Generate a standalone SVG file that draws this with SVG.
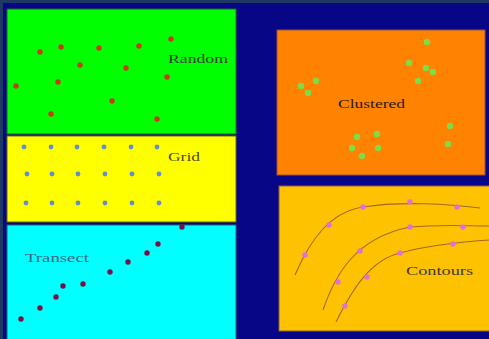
<svg xmlns="http://www.w3.org/2000/svg" width="489" height="339" viewBox="0 0 489 339">
  <defs>
    <style>
      .label { font-family: "Liberation Serif", "Times New Roman", serif; font-size: 13.5px; fill: #3a3a3a; }
      .rnd { fill: #c83a10; }
      .grd { fill: #5f8fcc; }
      .trn { fill: #7a1040; }
      .cls { fill: #7edc46; }
      .cnt { fill: #e070d8; }
      .curve { fill: none; stroke: #a06a28; stroke-width: 1.1; }
    </style>
  </defs>

  <!-- frame and background -->
  <rect x="0" y="0" width="489" height="339" fill="#1e3a64"/>
  <rect x="3" y="3" width="486" height="336" fill="#060686"/>

  <!-- Random sampling -->
  <g id="random">
    <rect x="7" y="9" width="229" height="125" fill="#00ff00" stroke="#1d6a1d" stroke-width="1"/>
    <circle class="rnd" cx="40" cy="52" r="2.7"/>
    <circle class="rnd" cx="61" cy="47" r="2.7"/>
    <circle class="rnd" cx="99" cy="48" r="2.7"/>
    <circle class="rnd" cx="139" cy="46" r="2.7"/>
    <circle class="rnd" cx="171" cy="39" r="2.7"/>
    <circle class="rnd" cx="80" cy="65" r="2.7"/>
    <circle class="rnd" cx="126" cy="68" r="2.7"/>
    <circle class="rnd" cx="16" cy="86" r="2.7"/>
    <circle class="rnd" cx="58" cy="82" r="2.7"/>
    <circle class="rnd" cx="167" cy="77" r="2.7"/>
    <circle class="rnd" cx="112" cy="101" r="2.7"/>
    <circle class="rnd" cx="51" cy="114" r="2.7"/>
    <circle class="rnd" cx="157" cy="119" r="2.7"/>
    <text class="label" x="168" y="63" textLength="60" lengthAdjust="spacingAndGlyphs">Random</text>
  </g>

  <!-- Grid sampling -->
  <g id="grid">
    <rect x="7" y="136" width="229" height="86" fill="#ffff00" stroke="#6a6a10" stroke-width="1"/>
    <circle class="grd" cx="24" cy="147" r="2.4"/>
    <circle class="grd" cx="51" cy="147" r="2.4"/>
    <circle class="grd" cx="77" cy="147" r="2.4"/>
    <circle class="grd" cx="104" cy="147" r="2.4"/>
    <circle class="grd" cx="131" cy="147" r="2.4"/>
    <circle class="grd" cx="157" cy="147" r="2.4"/>
    <circle class="grd" cx="27" cy="174" r="2.4"/>
    <circle class="grd" cx="52" cy="174" r="2.4"/>
    <circle class="grd" cx="78" cy="174" r="2.4"/>
    <circle class="grd" cx="105" cy="174" r="2.4"/>
    <circle class="grd" cx="132" cy="174" r="2.4"/>
    <circle class="grd" cx="159" cy="174" r="2.4"/>
    <circle class="grd" cx="26" cy="203" r="2.4"/>
    <circle class="grd" cx="52" cy="203" r="2.4"/>
    <circle class="grd" cx="78" cy="203" r="2.4"/>
    <circle class="grd" cx="105" cy="203" r="2.4"/>
    <circle class="grd" cx="132" cy="203" r="2.4"/>
    <circle class="grd" cx="159" cy="203" r="2.4"/>
    <text class="label" x="168" y="161" textLength="32" lengthAdjust="spacingAndGlyphs" style="fill:#4a4a20">Grid</text>
  </g>

  <!-- Transect sampling -->
  <g id="transect">
    <rect x="7" y="225" width="229" height="120" fill="#00ffff" stroke="#1a6a6a" stroke-width="1"/>
    <circle class="trn" cx="182" cy="227" r="2.7"/>
    <circle class="trn" cx="158" cy="244" r="2.7"/>
    <circle class="trn" cx="147" cy="253" r="2.7"/>
    <circle class="trn" cx="128" cy="262" r="2.7"/>
    <circle class="trn" cx="110" cy="272" r="2.7"/>
    <circle class="trn" cx="83" cy="284" r="2.7"/>
    <circle class="trn" cx="63" cy="286" r="2.7"/>
    <circle class="trn" cx="56" cy="297" r="2.7"/>
    <circle class="trn" cx="40" cy="308" r="2.7"/>
    <circle class="trn" cx="21" cy="319" r="2.7"/>
    <text class="label" x="25" y="262" textLength="64" lengthAdjust="spacingAndGlyphs" style="fill:#3a6a7a">Transect</text>
  </g>

  <!-- Clustered sampling -->
  <g id="clustered">
    <rect x="277" y="30" width="208" height="145" fill="#ff8200" stroke="#9a5040" stroke-width="1"/>
    <circle class="cls" cx="427" cy="42" r="3.2"/>
    <circle class="cls" cx="409" cy="63" r="3.2"/>
    <circle class="cls" cx="426" cy="68" r="3.2"/>
    <circle class="cls" cx="433" cy="72" r="3.2"/>
    <circle class="cls" cx="418" cy="81" r="3.2"/>
    <circle class="cls" cx="301" cy="86" r="3.2"/>
    <circle class="cls" cx="316" cy="81" r="3.2"/>
    <circle class="cls" cx="308" cy="93" r="3.2"/>
    <circle class="cls" cx="357" cy="137" r="3.2"/>
    <circle class="cls" cx="377" cy="134" r="3.2"/>
    <circle class="cls" cx="352" cy="148" r="3.2"/>
    <circle class="cls" cx="378" cy="148" r="3.2"/>
    <circle class="cls" cx="362" cy="156" r="3.2"/>
    <circle class="cls" cx="450" cy="126" r="3.2"/>
    <circle class="cls" cx="448" cy="144" r="3.2"/>
    <text class="label" x="338" y="108" textLength="67" lengthAdjust="spacingAndGlyphs" style="fill:#2a1a10">Clustered</text>
  </g>

  <!-- Contour sampling -->
  <g id="contours">
    <rect x="279" y="186" width="215" height="145" fill="#ffc200" stroke="#8a6040" stroke-width="1"/>
    <path class="curve" d="M295,275 C310,240 330,212 363,207 C400,201 450,204 480,208"/>
    <path class="curve" d="M323,310 C335,275 355,238 410,227 C440,224 470,226 489,226"/>
    <path class="curve" d="M336,322 C352,290 370,260 400,253 C425,246 460,242 489,240"/>
    <circle class="cnt" cx="363" cy="207" r="2.7"/>
    <circle class="cnt" cx="410" cy="202" r="2.7"/>
    <circle class="cnt" cx="457" cy="207" r="2.7"/>
    <circle class="cnt" cx="329" cy="225" r="2.7"/>
    <circle class="cnt" cx="305" cy="255" r="2.7"/>
    <circle class="cnt" cx="410" cy="227" r="2.7"/>
    <circle class="cnt" cx="463" cy="227" r="2.7"/>
    <circle class="cnt" cx="360" cy="251" r="2.7"/>
    <circle class="cnt" cx="338" cy="282" r="2.7"/>
    <circle class="cnt" cx="453" cy="244" r="2.7"/>
    <circle class="cnt" cx="400" cy="253" r="2.7"/>
    <circle class="cnt" cx="367" cy="277" r="2.7"/>
    <circle class="cnt" cx="345" cy="306" r="2.7"/>
    <text class="label" x="406" y="275" textLength="67" lengthAdjust="spacingAndGlyphs">Contours</text>
  </g>
</svg>
